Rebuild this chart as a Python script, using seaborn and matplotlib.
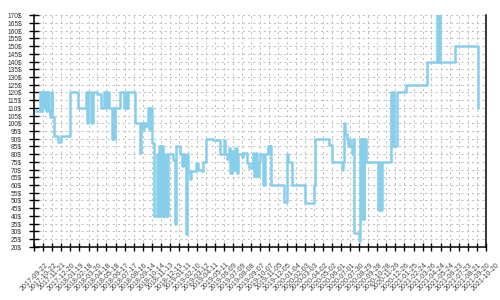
import matplotlib
matplotlib.use("Agg")
import matplotlib.pyplot as plt
import seaborn as sns
import pandas as pd

dates = [
    "2017-09-28", "2017-10-11", "2017-10-16", "2017-10-19", "2017-10-24", "2017-10-27",
    "2017-11-01", "2017-11-04", "2017-11-09", "2017-11-12", "2017-11-15", "2017-11-18",
    "2017-11-21", "2017-11-27", "2017-12-10", "2017-12-18", "2018-01-18", "2018-02-14",
    "2018-03-11", "2018-03-16", "2018-03-19", "2018-03-28", "2018-04-02", "2018-04-16",
    "2018-04-29", "2018-05-11", "2018-05-16", "2018-05-21", "2018-05-26", "2018-06-04",
    "2018-06-09", "2018-06-12", "2018-06-15", "2018-07-02", "2018-07-16", "2018-07-21",
    "2018-07-26", "2018-07-29", "2018-08-21", "2018-09-05", "2018-09-10", "2018-09-14",
    "2018-09-18", "2018-09-27", "2018-10-03", "2018-10-07", "2018-10-10", "2018-10-15",
    "2018-10-22", "2018-10-31", "2018-11-04", "2018-11-08", "2018-11-12", "2018-11-15",
    "2018-11-19", "2018-11-21", "2018-11-25", "2018-11-30", "2018-12-03", "2018-12-08",
    "2018-12-22", "2018-12-31", "2019-01-03", "2019-01-15", "2019-01-22", "2019-01-27",
    "2019-02-01", "2019-02-06", "2019-02-08", "2019-02-12", "2019-02-17", "2019-02-20",
    "2019-03-11", "2019-03-17", "2019-03-28", "2019-04-02", "2019-04-13", "2019-05-04",
    "2019-05-27", "2019-06-09", "2019-06-14", "2019-06-18", "2019-06-27", "2019-07-01",
    "2019-07-06", "2019-07-11", "2019-07-16", "2019-07-21", "2019-07-26", "2019-08-07",
    "2019-08-13", "2019-08-23", "2019-08-31", "2019-09-09", "2019-09-13", "2019-09-18",
    "2019-09-23", "2019-09-28", "2019-10-03", "2019-10-06", "2019-10-17", "2019-10-23",
    "2019-11-03", "2019-11-07", "2019-11-10", "2019-11-13", "2019-12-24", "2020-01-02",
    "2020-01-07", "2020-01-19", "2020-03-03", "2020-04-01", "2020-04-05", "2020-05-22",
    "2020-05-30", "2020-07-02", "2020-07-07", "2020-07-10", "2020-07-14", "2020-07-18",
    "2020-07-22", "2020-07-25", "2020-07-29", "2020-08-05", "2020-08-09", "2020-08-12",
    "2020-08-29", "2020-09-02", "2020-09-05", "2020-09-08", "2020-09-12", "2020-09-15",
    "2020-09-19", "2020-10-29", "2020-11-02", "2020-11-06", "2020-11-11", "2020-12-10",
    "2020-12-14", "2020-12-18", "2020-12-21", "2020-12-30", "2021-01-30", "2021-04-10",
    "2021-05-14", "2021-05-16", "2021-05-19", "2021-05-22", "2021-07-10", "2021-09-25",
]
prices = [
    108, 120, 108, 120, 110, 120,
    108, 120, 108, 104, 108, 120,
    104, 92, 88, 92, 120, 110,
    120, 100, 120, 100, 120, 119,
    110, 120, 110, 120, 110, 90,
    110, 90, 110, 120, 110, 120,
    110, 120, 100, 81, 100, 96,
    100, 98, 110, 96, 110, 87,
    40, 80, 40, 85, 40, 85,
    40, 80, 40, 80, 40, 80,
    76, 35, 85, 80, 72, 80,
    72, 28, 80, 69, 64, 69,
    74, 70, 69, 75, 90, 89,
    80, 89, 80, 77, 84, 68,
    82, 70, 84, 68, 80, 78,
    81, 74, 71, 74, 81, 66,
    81, 66, 75, 80, 60, 80,
    85, 80, 85, 60, 49, 80,
    75, 60, 48, 60, 90, 86,
    75, 70, 75, 100, 93, 90,
    85, 90, 85, 80, 90, 29,
    24, 90, 38, 90, 38, 90,
    75, 44, 75, 44, 75, 120,
    85, 120, 85, 120, 125, 140,
    170, 140, 170, 140, 150, 110,
]

tick_labels = [
    "2017-09-22", "2017-10-22", "2017-11-21", "2017-12-20", "2018-01-19", "2018-02-18",
    "2018-03-20", "2018-04-18", "2018-05-18", "2018-06-17", "2018-07-17", "2018-08-16",
    "2018-09-14", "2018-10-14", "2018-11-13", "2018-12-13", "2019-01-11", "2019-02-10",
    "2019-03-12", "2019-04-11", "2019-05-11", "2019-06-09", "2019-07-09", "2019-08-08",
    "2019-09-07", "2019-10-07", "2019-11-05", "2019-12-05", "2020-01-04", "2020-02-03",
    "2020-03-03", "2020-04-02", "2020-05-02", "2020-06-01", "2020-07-01", "2020-07-30",
    "2020-08-29", "2020-09-28", "2020-10-28", "2020-11-26", "2020-12-26", "2021-01-25",
    "2021-02-24", "2021-03-26", "2021-04-24", "2021-05-24", "2021-06-23", "2021-07-23",
    "2021-08-21", "2021-09-20", "2021-10-20",
]
y_ticks = [20, 25, 30, 35, 40, 45, 50, 55, 60, 65, 70, 75, 80, 85, 90, 95, 100,
           105, 110, 115, 120, 125, 130, 135, 140, 145, 150, 155, 160, 165, 170]

sns.set_theme(style="white")
plt.rcParams['font.family'] = ['Liberation Sans', 'DejaVu Sans']

fig = plt.figure(figsize=(5, 3), dpi=100)
ax = fig.add_axes([0.0686, 0.1777, 0.9028, 0.7713])

df = pd.DataFrame({"date": pd.to_datetime(dates), "price": prices})
sns.lineplot(data=df, x="date", y="price", ax=ax, drawstyle="steps-post",
             color="#87CEEB", linewidth=1.8, estimator=None, zorder=3)

tick_dates = pd.to_datetime(tick_labels)
ax.set_xlim(tick_dates[0], tick_dates[-1])
ax.set_ylim(20, 170)
ax.set_xticks(tick_dates)
ax.set_xticklabels(tick_labels, rotation=45, ha="center", fontsize=5.1, color="#444444")
ax.set_yticks(y_ticks)
ax.set_yticklabels([f"{v}$" for v in y_ticks], fontsize=4.8, color="#333333")
ax.set_xlabel("")
ax.set_ylabel("")

ax.grid(True, color="#c0c0c0", linestyle=(0, (2, 3)), linewidth=0.75, zorder=0)
ax.tick_params(axis="y", direction="inout", length=7, width=1, color="black", pad=5.5, left=True)
ax.tick_params(axis="x", direction="inout", length=6, width=1, color="black", pad=7.5, bottom=True)

for side in ["left", "right", "bottom"]:
    ax.spines[side].set_visible(True)
    ax.spines[side].set_color("black")
    ax.spines[side].set_linewidth(1.1)
ax.spines["top"].set_visible(False)

fig.savefig("out.png", dpi=100)
